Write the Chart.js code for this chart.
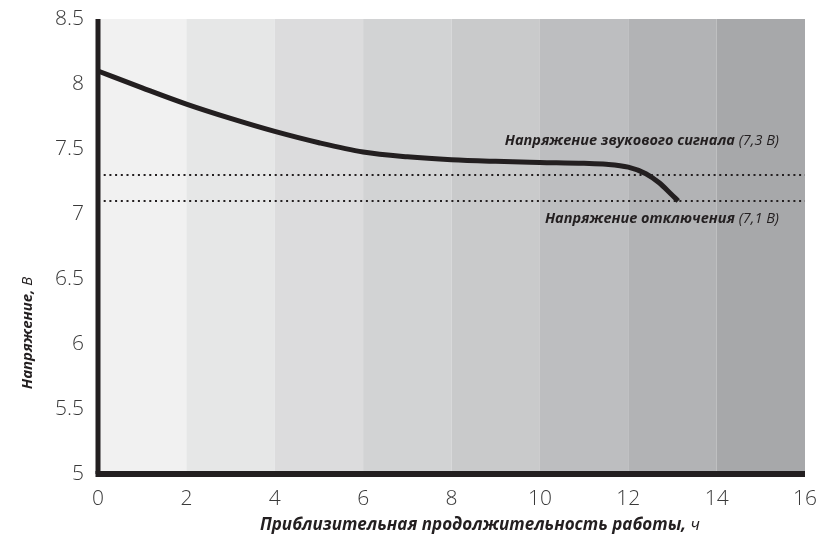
<!DOCTYPE html>
<html>
<head>
<meta charset="utf-8">
<script src="https://cdn.jsdelivr.net/npm/chart.js@4/dist/chart.umd.min.js"></script>
<style>
  html, body { margin: 0; padding: 0; background: #fff; }
  #wrap { width: 819px; height: 536px; position: relative; }
</style>
</head>
<body>
<div id="wrap"><canvas id="chart"></canvas></div>
<script>
// runtime (h) vs voltage (V)
const hours = [0, 1, 2, 3, 4, 5, 6, 7, 8, 9, 10, 11, 11.5, 12, 12.4, 12.7, 12.95, 13.13]
const volts = [8.1, 7.97, 7.845, 7.735, 7.635, 7.548, 7.477, 7.44, 7.417, 7.405, 7.397, 7.39, 7.383, 7.36, 7.31, 7.24, 7.16, 7.1]

const beepVolt = 7.3
const cutoffVolt = 7.1
const beepLabel = ['Напряжение звукового сигнала', '(7,3 В)']
const cutoffLabel = ['Напряжение отключения', '(7,1 В)']

// shaded background bands, every 2 hours
const bandStarts = [0, 2, 4, 6, 8, 10, 12, 14]
const bandColors = ['#f1f1f1', '#e6e7e7', '#dcdcdd', '#d2d3d4', '#c9cacb', '#bdbec0', '#b2b3b5', '#a7a8aa']

const xTitle = ['Приблизительная продолжительность работы,', 'ч']
const yTitle = ['Напряжение,', 'В']

const ink = '#231f20'
const fam = "'Open Sans', 'DejaVu Sans', sans-serif"

function twoPartText(ctx, parts, x, y, size, align) {
  // first part bold italic, second part italic regular
  ctx.font = `italic 700 ${size}px ${fam}`
  const w1 = ctx.measureText(parts[0] + ' ').width
  ctx.font = `italic 400 ${size}px ${fam}`
  const w2 = ctx.measureText(parts[1]).width
  const total = w1 + w2
  let x0 = x
  if (align === 'center') x0 = x - total / 2
  if (align === 'right') x0 = x - total
  ctx.textAlign = 'left'
  ctx.font = `italic 700 ${size}px ${fam}`
  ctx.fillText(parts[0] + ' ', x0, y)
  ctx.font = `italic 400 ${size}px ${fam}`
  ctx.fillText(parts[1], x0 + w1, y)
}

const decor = {
  id: 'decor',
  beforeDatasetsDraw(chart) {
    const { ctx, chartArea: a, scales: { x } } = chart
    ctx.save()
    bandStarts.forEach((s, i) => {
      const x0 = x.getPixelForValue(s)
      const x1 = x.getPixelForValue(s + 2)
      ctx.fillStyle = bandColors[i]
      ctx.fillRect(x0, a.top, x1 - x0, a.bottom - a.top)
    })
    ctx.restore()
  },
  afterDraw(chart) {
    const { ctx, chartArea: a, scales: { y } } = chart
    ctx.save()
    // axis lines
    ctx.strokeStyle = ink
    ctx.lineWidth = 5
    ctx.beginPath()
    ctx.moveTo(a.left, a.top)
    ctx.lineTo(a.left, a.bottom)
    ctx.stroke()
    ctx.lineWidth = 6
    ctx.beginPath()
    ctx.moveTo(a.left - 2.5, a.bottom)
    ctx.lineTo(a.right, a.bottom)
    ctx.stroke()

    ctx.fillStyle = ink
    ctx.textBaseline = 'alphabetic'
    twoPartText(ctx, beepLabel, 779, y.getPixelForValue(beepVolt) - 30, 14.5, 'right')
    twoPartText(ctx, cutoffLabel, 779, y.getPixelForValue(cutoffVolt) + 22, 14.5, 'right')

    // axis titles
    ctx.textBaseline = 'middle'
    twoPartText(ctx, xTitle, 480, 525, 17, 'center')
    ctx.translate(28, 333)
    ctx.rotate(-Math.PI / 2)
    twoPartText(ctx, yTitle, 0, 0, 15, 'center')
    ctx.restore()
  }
}

const ctx = document.getElementById('chart').getContext('2d')

new Chart(ctx, {
  type: 'line',
  data: {
    datasets: [
      {
        data: hours.map((h, i) => ({ x: h, y: volts[i] })),
        borderColor: ink,
        borderWidth: 5,
        pointRadius: 0,
        cubicInterpolationMode: 'monotone',
        clip: false,
      },
      {
        data: [{ x: 0, y: beepVolt }, { x: 16, y: beepVolt }],
        borderColor: ink,
        borderWidth: 2,
        borderDash: [2, 3.7],
        pointRadius: 0,
      },
      {
        data: [{ x: 0, y: cutoffVolt }, { x: 16, y: cutoffVolt }],
        borderColor: ink,
        borderWidth: 2,
        borderDash: [2, 3.7],
        pointRadius: 0,
      },
    ],
  },
  options: {
    responsive: true,
    maintainAspectRatio: false,
    animation: false,
    layout: { padding: { top: 19, right: 14, left: 0, bottom: 0 } },
    plugins: { legend: { display: false }, tooltip: { enabled: false } },
    scales: {
      x: {
        type: 'linear',
        min: 0,
        max: 16,
        grid: { display: false },
        border: { display: false },
        ticks: {
          stepSize: 2,
          padding: 4,
          color: '#3a3a3a',
          font: { family: fam, size: 21, weight: '300' },
        },
        afterFit(s) {
          s.height = 62
          s.paddingLeft = 0
          s.paddingRight = 0
        },
      },
      y: {
        type: 'linear',
        min: 5,
        max: 8.5,
        grid: { display: false },
        border: { display: false },
        ticks: {
          stepSize: 0.5,
          padding: 6,
          color: '#3a3a3a',
          font: { family: fam, size: 21, weight: '300' },
          callback: (v) => String(v),
        },
        afterFit(s) {
          s.width = 98
          s.paddingTop = 0
          s.paddingBottom = 0
        },
      },
    },
  },
  plugins: [decor],
})
</script>
</body>
</html>
